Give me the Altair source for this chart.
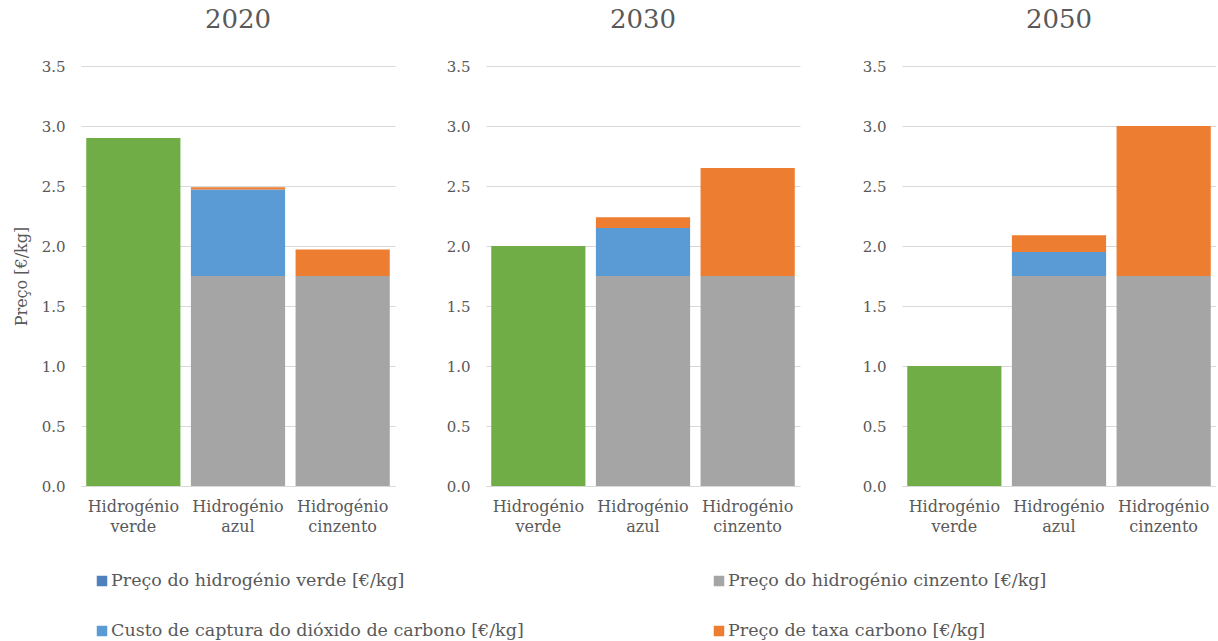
import altair as alt
import pandas as pd

FONT = "DejaVu Serif"
TXT = "#595959"

years = ["2020", "2030", "2050"]
categories = ["Hidrogénio verde", "Hidrogénio azul", "Hidrogénio cinzento"]
series = [
    "Preço do hidrogénio verde [€/kg]",
    "Preço do hidrogénio cinzento [€/kg]",
    "Custo de captura do dióxido de carbono [€/kg]",
    "Preço de taxa carbono [€/kg]",
]
bar_colors = ["#70AD47", "#A5A5A5", "#5B9BD5", "#ED7D31"]
legend_colors = ["#4F81BD", "#A5A5A5", "#5B9BD5", "#ED7D31"]

# values per year
verde_price = [2.90, 2.00, 1.00]
cinzento_price_azul = [1.75, 1.75, 1.75]
captura_azul = [0.72, 0.40, 0.20]
taxa_azul = [0.02, 0.09, 0.14]
cinzento_price_cinz = [1.75, 1.75, 1.75]
taxa_cinzento = [0.22, 0.90, 1.25]

rows = []
for i, y in enumerate(years):
    rows.append((y, categories[0], series[0], verde_price[i], 0))
    rows.append((y, categories[1], series[1], cinzento_price_azul[i], 0))
    rows.append((y, categories[1], series[2], captura_azul[i], 1))
    rows.append((y, categories[1], series[3], taxa_azul[i], 2))
    rows.append((y, categories[2], series[1], cinzento_price_cinz[i], 0))
    rows.append((y, categories[2], series[3], taxa_cinzento[i], 2))
df = pd.DataFrame(rows, columns=["year", "category", "series", "value", "order"])


def panel(year, first):
    yaxis = alt.Axis(
        values=[0, 0.5, 1, 1.5, 2, 2.5, 3, 3.5], format=".1f",
        title="Preço [€/kg]" if first else None,
        titleFont=FONT, titleFontSize=16, titleFontWeight="normal", titleColor=TXT,
        titlePadding=12,
        labelFont=FONT, labelFontSize=15, labelColor=TXT, labelPadding=16,
        grid=True, gridColor="#D9D9D9", domain=False, ticks=False, tickSize=0,
    )
    xaxis = alt.Axis(
        title=None, labelAngle=0, labelExpr="split(datum.label, ' ')",
        labelFont=FONT, labelFontSize=16, labelColor=TXT, labelPadding=12,
        labelLineHeight=20,
        domainColor="#D9D9D9", ticks=False, tickSize=0,
    )
    return (
        alt.Chart(df)
        .transform_filter(alt.datum.year == year)
        .mark_bar()
        .encode(
            x=alt.X("category:N", sort=categories,
                    scale=alt.Scale(paddingInner=0.1, paddingOuter=0.05), axis=xaxis),
            y=alt.Y("value:Q", stack="zero", scale=alt.Scale(domain=[0, 3.5]), axis=yaxis),
            color=alt.Color("series:N", scale=alt.Scale(domain=series, range=bar_colors), legend=None),
            order=alt.Order("order:Q"),
        )
        .properties(
            width=314, height=420,
            title=alt.TitleParams(year, font=FONT, fontSize=26, fontWeight="normal",
                                  color=TXT, offset=26),
        )
    )


legend_df = pd.DataFrame({
    "series": series,
    "swatch": legend_colors,
    "col": [0, 1, 0, 1],
    "row": [0, 0, 1, 1],
})
lx = alt.X("col:Q", scale=alt.Scale(domain=[0, 1], range=[21, 638]), axis=None)
ly = alt.Y("row:Q", scale=alt.Scale(domain=[-0.5, 1.5], reverse=True), axis=None)
leg_base = alt.Chart(legend_df)
legend = (
    leg_base.mark_square(size=110, opacity=1).encode(
        x=lx, y=ly, color=alt.Color("swatch:N", scale=None))
    + leg_base.mark_text(align="left", dx=9, font=FONT, fontSize=17.5, color=TXT).encode(
        x=lx, y=ly, text="series:N")
).properties(width=1100, height=100)

left = alt.hconcat(panel("2020", True), panel("2030", False), spacing=51)
top = alt.hconcat(left, panel("2050", False), spacing=62)
chart = alt.vconcat(top, legend, spacing=22).configure(
    background="white", padding={"left": 13, "top": 7, "right": 0, "bottom": 0}
).configure_view(stroke=None)

chart.save("out.html", embed_options={"renderer": "svg", "actions": False})
